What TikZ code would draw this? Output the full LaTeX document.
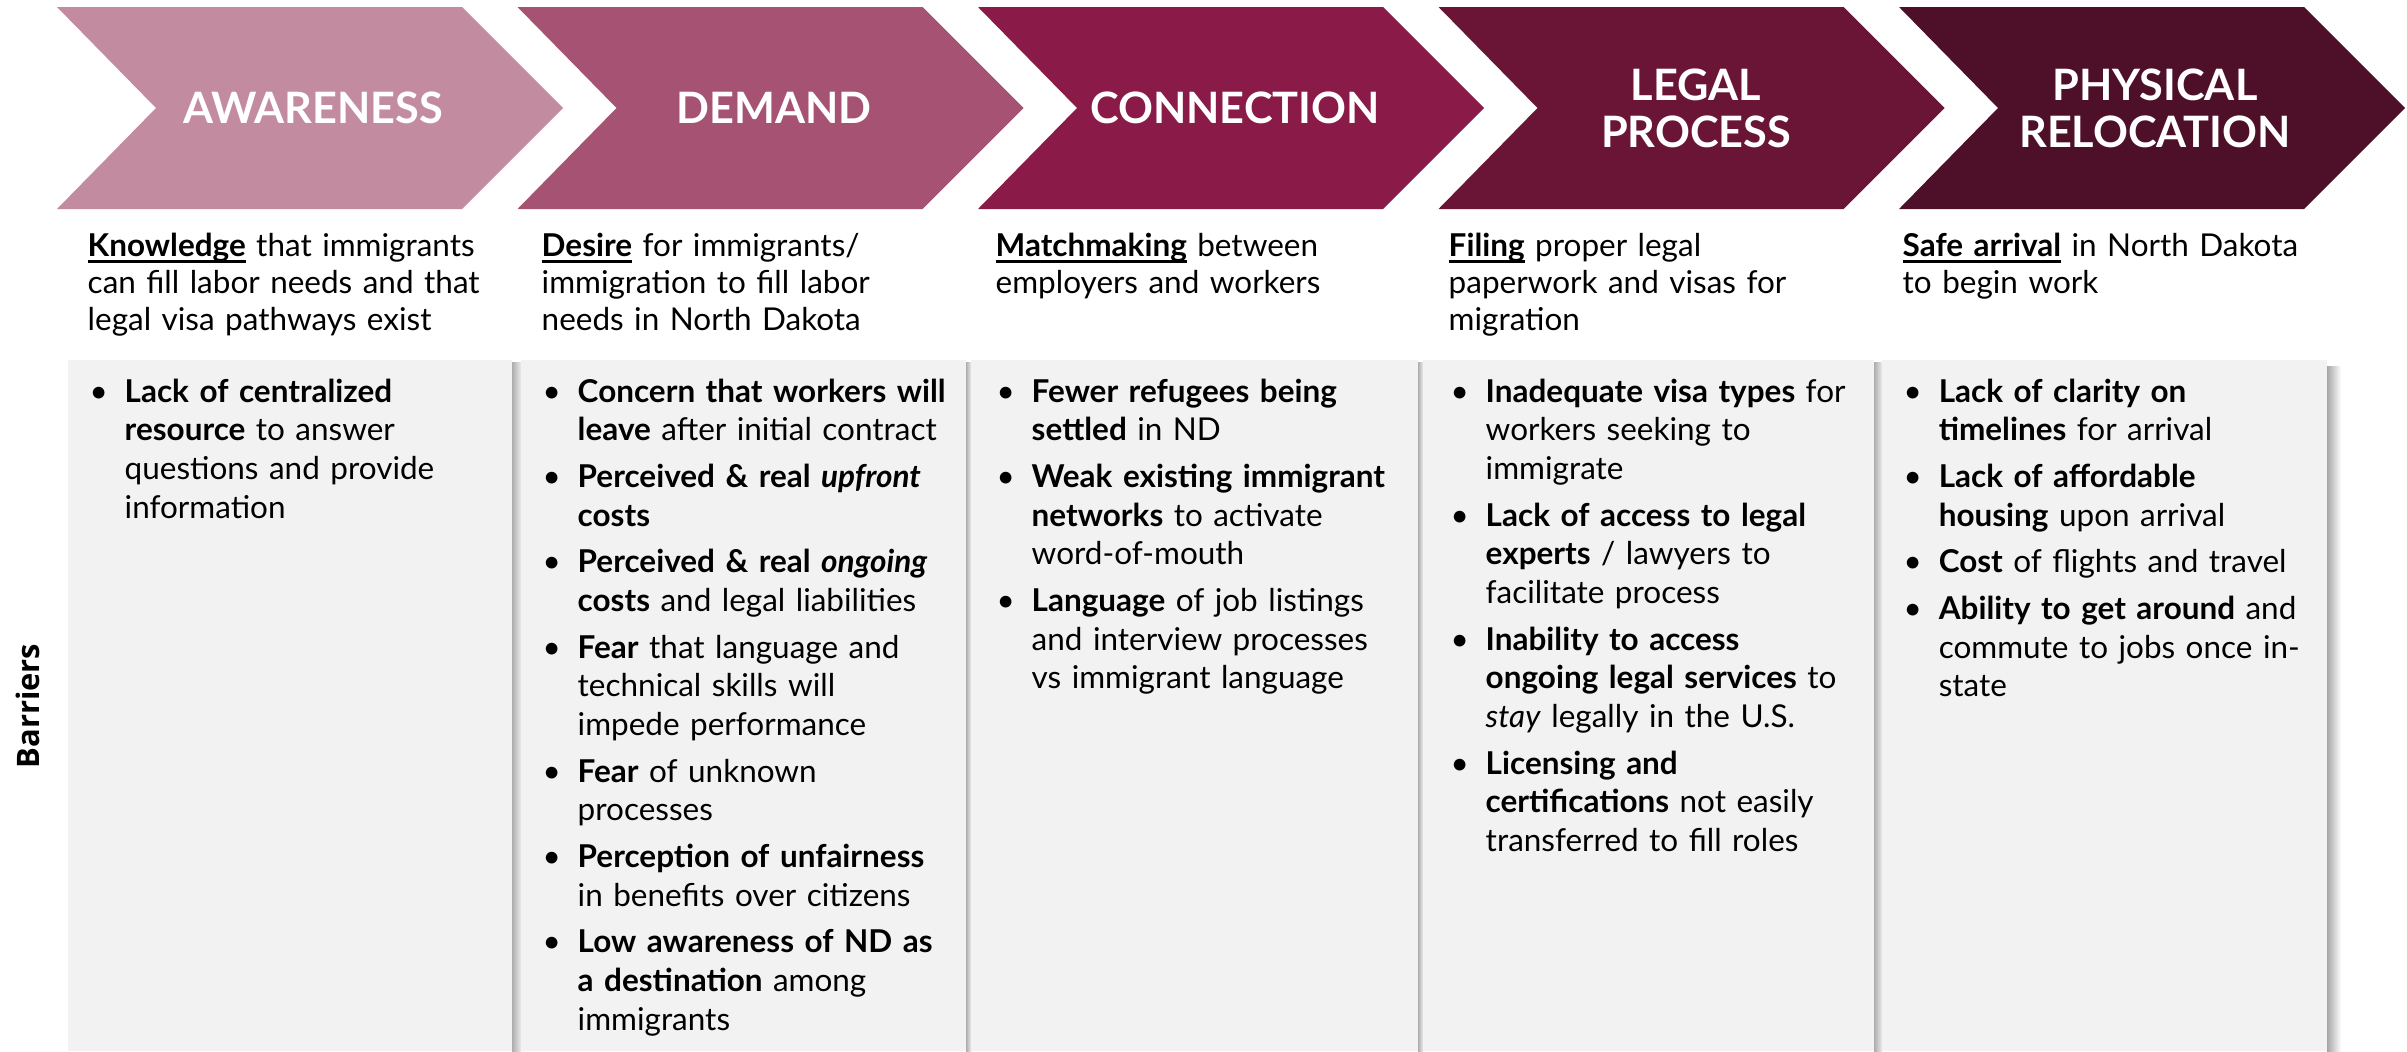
\documentclass[tikz,border=0pt]{standalone}
\usepackage{fontspec}
\setmainfont{Lato}
\newfontfamily\sidefont{Open Sans}
\usepackage{xcolor}
\definecolor{chevA}{HTML}{C38BA0}
\definecolor{chevB}{HTML}{A65373}
\definecolor{chevC}{HTML}{8A1A47}
\definecolor{chevD}{HTML}{6B1536}
\definecolor{chevE}{HTML}{4E0F28}
\definecolor{boxgray}{HTML}{F2F2F2}
\newcommand{\ulw}[1]{\setbox0\hbox{\textbf{#1}}\rlap{\rule[-0.065cm]{\wd0}{0.6pt}}\box0\relax}
\newcommand{\firstbul}{\noindent\hangindent=0.35cm\hangafter=1\makebox[0.35cm][l]{\textbullet}}
\newcommand{\bul}{\par\firstbul}

\begin{document}
\begin{tikzpicture}[x=0.01cm,y=-0.01cm,
  title/.style={text=white,font=\fontsize{12.3}{13.4}\selectfont\bfseries,align=center},
  desc/.style={anchor=base west,inner sep=0,align=left,text width=4.5cm,font=\fontsize{8.95}{10.6}\selectfont},
  barlist/.style={anchor=base west,inner sep=0,align=left,text width=4.3cm,font=\fontsize{8.95}{11}\selectfont\setlength{\parskip}{0.08cm}},
  colbox/.style={fill=boxgray},
  sideshadow/.style={left color=black!32,right color=black!8}]
\useasboundingbox (0,0) rectangle (2407,1051);

% chevrons
\foreach \i/\col in {0/chevA,1/chevB,2/chevC,3/chevD,4/chevE} {
  \pgfmathsetmacro{\L}{57+460.5*\i}
  \fill[\col] (\L,7) -- ({\L+405},7) -- ({\L+506},108) -- ({\L+405},209)
    -- (\L,209) -- ({\L+99},108) -- cycle;
}
\node[title] (awareness) at (313,108) {AWARENESS};
\node[title] (demand) at (774,108) {DEMAND};
\node[title] (connection) at (1235,108) {CONNECTION};
\node[title] (legal) at (1696,108) {LEGAL\\PROCESS};
\node[title] (relocation) at (2155,108) {PHYSICAL\\RELOCATION};

% stage descriptions
\node[desc] (knowledge) at (87,256) {\ulw{Knowledge} that immigrants\newline can fill labor needs and that\newline legal visa pathways exist};
\node[desc] (desire) at (541,256) {\ulw{Desire} for immigrants/\newline immigration to fill labor\newline needs in North Dakota};
\node[desc] (matchmaking) at (995,256) {\ulw{Matchmaking} between\newline employers and workers};
\node[desc] (filing) at (1448,256) {\ulw{Filing} proper legal\newline paperwork and visas for\newline migration};
\node[desc] (arrival) at (1902,256) {\ulw{Safe arrival} in North Dakota\newline to begin work};

% barrier columns
\fill[colbox] (68,360) rectangle (512,1051);
\shade[sideshadow] (512,362) rectangle (521,1051);
\fill[colbox] (521,360) rectangle (966,1051);
\shade[sideshadow] (966,362) rectangle (971,1051);
\fill[colbox] (971,360) rectangle (1418,1051);
\shade[sideshadow] (1418,362) rectangle (1423,1051);
\fill[colbox] (1423,360) rectangle (1874,1051);
\shade[sideshadow] (1874,362) rectangle (1882,1051);
\fill[colbox] (1882,360) rectangle (2327,1051);
\shade[left color=black!35,right color=white] (2327,366) rectangle (2341,1051);

\node[rotate=90,font=\sidefont\bfseries\fontsize{8.8}{10}\selectfont] (barriers) at (28,706) {Barriers};

\node[barlist] (awarebar) at (89,402) {%
\firstbul\textbf{Lack of centralized}\newline\textbf{resource} to answer\newline questions and provide\newline information\par};
\node[barlist] (demandbar) at (542,402) {%
\firstbul\textbf{Concern that workers will}\newline\textbf{leave} after initial contract
\bul\textbf{Perceived \& real \textit{upfront}}\newline\textbf{costs}
\bul\textbf{Perceived \& real \textit{ongoing}}\newline\textbf{costs} and legal liabilities
\bul\textbf{Fear} that language and\newline technical skills will\newline impede performance
\bul\textbf{Fear} of unknown\newline processes
\bul\textbf{Perception of unfairness}\newline in benefits over citizens
\bul\textbf{Low awareness of ND as}\newline\textbf{a destination} among\newline immigrants\par};
\node[barlist] (connectbar) at (996,402) {%
\firstbul\textbf{Fewer refugees being}\newline\textbf{settled} in ND
\bul\textbf{Weak existing immigrant}\newline\textbf{networks} to activate\newline word-of-mouth
\bul\textbf{Language} of job listings\newline and interview processes\newline vs immigrant language\par};
\node[barlist] (legalbar) at (1450,402) {%
\firstbul\textbf{Inadequate visa types} for\newline workers seeking to\newline immigrate
\bul\textbf{Lack of access to legal}\newline\textbf{experts} / lawyers to\newline facilitate process
\bul\textbf{Inability to access}\newline\textbf{ongoing legal services} to\newline\textit{stay} legally in the U.S.
\bul\textbf{Licensing and}\newline\textbf{certifications} not easily\newline transferred to fill roles\par};
\node[barlist] (relocbar) at (1903,402) {%
\firstbul\textbf{Lack of clarity on}\newline\textbf{timelines} for arrival
\bul\textbf{Lack of affordable}\newline\textbf{housing} upon arrival
\bul\textbf{Cost} of flights and travel
\bul\textbf{Ability to get around} and\newline commute to jobs once in-\newline state\par};
\end{tikzpicture}
\end{document}
